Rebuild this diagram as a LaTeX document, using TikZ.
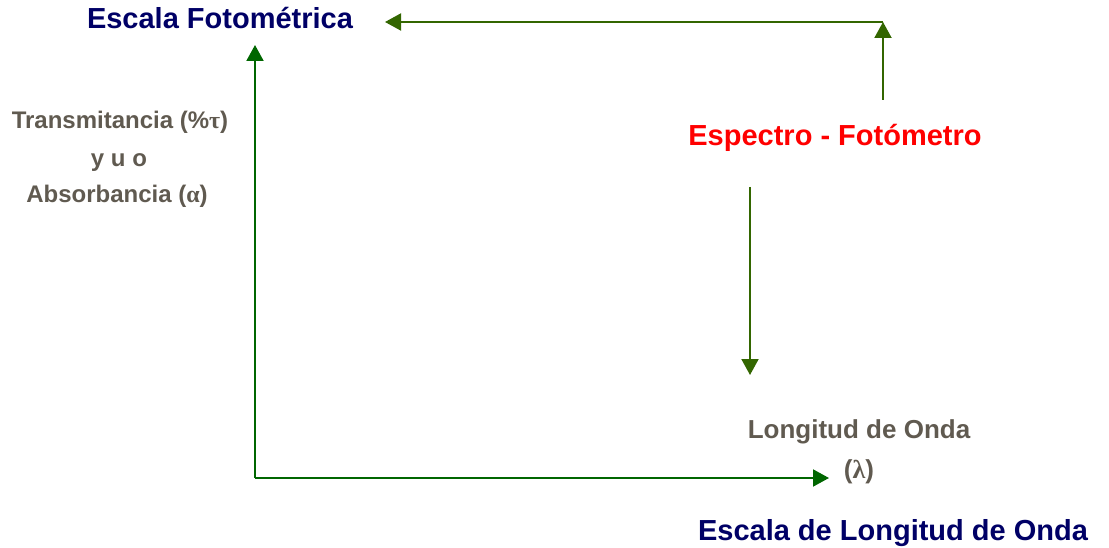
\documentclass[tikz,border=0pt]{standalone}
\usepackage{fontspec}
\setmainfont{Liberation Sans}
\newfontfamily\greekfont{Liberation Serif}
\usetikzlibrary{arrows.meta}
\definecolor{navy}{RGB}{0,0,102}
\definecolor{olivegreen}{RGB}{51,102,0}
\definecolor{axisgreen}{RGB}{0,102,0}
\definecolor{labelgray}{RGB}{96,90,80}

\begin{document}
\begin{tikzpicture}[x=1pt,y=-1pt,
        scaletitle/.style={font=\fontsize{29}{34}\selectfont\bfseries,
            text=navy,inner sep=0pt,anchor=base},
        graylabel/.style={font=\fontsize{24}{28}\selectfont\bfseries,
            text=labelgray,inner sep=0pt,anchor=base},
        flow/.style={draw=olivegreen,line width=2pt,
            -{Triangle[length=16pt,width=17pt]}},
        axis/.style={draw=axisgreen,line width=2pt,
            -{Triangle[length=16pt,width=17pt]}}]
\useasboundingbox (0,0) rectangle (1109,548);

% titulos
\node[scaletitle] (fotom) at (220,29) {Escala Fotométrica};
\node[scaletitle] (longs) at (893,540) {Escala de Longitud de Onda};
\node[scaletitle,text=red] (espec) at (835,146) {Espectro - Fotómetro};

% etiquetas de los ejes
\node[graylabel] (trans) at (120,129) {Transmitancia (\%{\greekfont τ})};
\node[graylabel] (yuo) at (119,167) {y u o};
\node[graylabel] (absor) at (117,203) {Absorbancia ({\greekfont α})};
\node[graylabel,font=\fontsize{26}{30}\selectfont\bfseries] (longi) at (859,438) {Longitud de Onda};
\node[graylabel,font=\fontsize{26}{30}\selectfont\bfseries] (lambda) at (859,478) {({\greekfont λ})};

% puntos de los conectores
\coordinate (origen) at (255,478);
\coordinate (ytop) at (255,45);
\coordinate (xend) at (829,478);
\coordinate (upfrom) at (883,100);
\coordinate (corner) at (883,22);
\coordinate (leftend) at (385,22);
\coordinate (downfrom) at (750,187);
\coordinate (downto) at (750,375);

\draw[axis] (origen) -- (ytop);
\draw[axis] (origen) -- (xend);
\draw[flow] (upfrom) -- (corner);
\draw[flow] (corner) -- (leftend);
\draw[flow] (downfrom) -- (downto);

\end{tikzpicture}
\end{document}
